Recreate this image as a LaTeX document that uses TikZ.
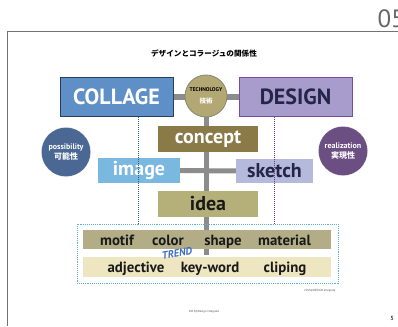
\documentclass[tikz,border=0pt]{standalone}
\usepackage{fontspec}
\setmainfont{PT Sans}
\newfontfamily\jpfont{Noto Sans CJK JP}
\usetikzlibrary{positioning}
\usetikzlibrary{calc}

\definecolor{bargray}{HTML}{8C8C8C}
\definecolor{collageblue}{HTML}{5E8FC6}
\definecolor{collageline}{HTML}{2C3E60}
\definecolor{designlilac}{HTML}{A89CCC}
\definecolor{designline}{HTML}{7B4C9C}
\definecolor{navytext}{HTML}{25254A}
\definecolor{techolive}{HTML}{B3A874}
\definecolor{techline}{HTML}{7F8A70}
\definecolor{conceptbrown}{HTML}{8A7A48}
\definecolor{imageblue}{HTML}{7AB8E0}
\definecolor{sketchlilac}{HTML}{B5B9DC}
\definecolor{ideakhaki}{HTML}{B5B07A}
\definecolor{possblue}{HTML}{4B6894}
\definecolor{realpurple}{HTML}{6B4F82}
\definecolor{motifrow}{HTML}{B3AD87}
\definecolor{adjrow}{HTML}{EDE6C0}
\definecolor{trendblue}{HTML}{3F6EC4}
\definecolor{dotcyan}{HTML}{5AB4D8}

\pgfdeclarelayer{bars}
\pgfsetlayers{bars,main}

\begin{document}
\begin{tikzpicture}[
  x=1pt, y=-1pt,
  bar/.style = {line width=5pt, draw=bargray},
  bigbox/.style = {minimum width=113pt, minimum height=38pt, inner sep=0pt, line width=1pt, font=\bfseries\fontsize{22}{22}\selectfont},
  wordbox/.style = {inner sep=0pt, font=\bfseries\fontsize{20}{20}\selectfont},
  rowbox/.style = {minimum width=248pt, inner sep=0pt},
  rowword/.style = {anchor=base, inner sep=0pt, font=\bfseries\fontsize{14.8}{14.8}\selectfont, text=black!90},
  sidecircle/.style = {circle, minimum size=49pt, inner sep=0pt, draw=white!80!black, densely dotted, text=white, align=center, font=\bfseries\fontsize{8}{9.5}\selectfont},
  tiny/.style = {font=\fontsize{3}{3}\selectfont, text=black!70}
  ]
  \useasboundingbox (0,0) rectangle (398,326);

  \draw[black!55, line width=0.8pt] (7,326) -- (7,31) -- (398,31);
  \node[anchor=base west, text=black!60, font=\fontsize{25}{25}\selectfont] (pagenum) at (374,28) {05};

  \node[font=\jpfont\bfseries\fontsize{7.6}{8}\selectfont] (title) at (204,54) {デザインとコラージュの関係性};

  \node[bigbox, fill=collageblue, draw=collageline, text=white] (collage) at (116.5,97) {COLLAGE};
  \node[bigbox, fill=designlilac, draw=designline, text=navytext] (design) at (295.5,97) {DESIGN};
  \node[circle, minimum size=42pt, inner sep=0pt, fill=techolive, draw=techline, line width=0.8pt, align=center] (tech) at (206,96)
    {{\bfseries\fontsize{5.5}{6}\selectfont TECHNOLOGY}\\[-0.5pt]{\jpfont\bfseries\fontsize{6.5}{7}\selectfont\color{white}技術}};

  \node[wordbox, fill=conceptbrown, text=white, minimum width=100pt, minimum height=26pt] (concept) at (208,139) {concept};
  \node[wordbox, fill=imageblue, text=white, minimum width=82pt, minimum height=25pt] (image) at (139,170.5) {image};
  \node[wordbox, fill=sketchlilac, text=navytext, minimum width=77pt, minimum height=24pt] (sketch) at (274.5,171) {sketch};
  \node[wordbox, fill=ideakhaki, text=black!90, minimum width=100pt, minimum height=26pt] (idea) at (208,204) {idea};

  \node[sidecircle, fill=possblue] (possibility) at (66,152) {possibility\\{\jpfont 可能性}};
  \node[sidecircle, fill=realpurple] (realization) at (343,151) {realization\\{\jpfont 実現性}};

  \node[draw=dotcyan, densely dotted, line width=0.9pt, minimum width=261pt, minimum height=59pt, inner sep=0pt] (trendbox) at (207.5,253.5) {};
  \node[rowbox, fill=motifrow, minimum height=19pt] (motifrow) at (207,239.5) {};
  \node[rowbox, fill=adjrow, minimum height=20pt] (adjrow) at (207,267) {};
  \coordinate (barend) at (206,255);

  \node[rowword] (motif) at (117,245) {motif};
  \node[rowword] (color) at (168,245) {color};
  \node[rowword] (shape) at (223,245) {shape};
  \node[rowword] (material) at (284.5,245) {material};
  \node[rowword] (adjective) at (136,272.5) {adjective};
  \node[rowword] (keyword) at (210,272.5) {key-word};
  \node[rowword] (cliping) at (285,272.5) {cliping};
  \node[text=trendblue, rotate=10, inner sep=0pt, font=\bfseries\itshape\fontsize{10.5}{10.5}\selectfont] (trend) at (177,253) {TREND};

  \begin{pgfonlayer}{bars}
    \draw[bar] (collage) -- (design);
    \draw[bar] (tech) -- (barend);
    \draw[bar] (image) -- (sketch);
  \end{pgfonlayer}

  \draw[draw=collageline!80!cyan, densely dotted, line width=1pt] ([xshift=21.5pt]collage.south) -- ([xshift=21.5pt]collage.south |- trendbox.north);
  \draw[draw=designline!80!black, densely dotted, line width=1pt] ([xshift=-21.5pt]design.south) -- ([xshift=-21.5pt]design.south |- trendbox.north);

  \node[tiny, anchor=north east] (credit) at (339,286) {2015©DESIGN Integrate};
  \node[tiny] (footer) at (204,312) {2015©Design integrate};
  \node[font=\bfseries\fontsize{6}{6}\selectfont, text=black!75] (slideno) at (392,318) {5};
\end{tikzpicture}
\end{document}
